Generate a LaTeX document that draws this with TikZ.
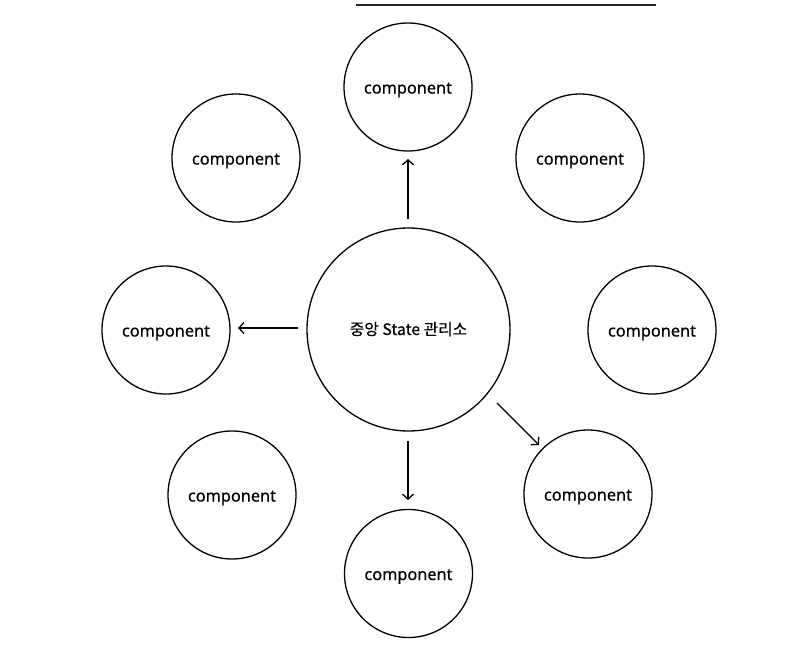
\documentclass[tikz,border=0pt]{standalone}
\usepackage{fontspec}
\setmainfont{Noto Sans}[FakeBold=0.6]
\newfontfamily\cjk{Noto Sans CJK KR}[FakeBold=0.5]
\usetikzlibrary{arrows.meta}
\begin{document}
\begin{tikzpicture}[x=1pt,y=-1pt,
  comp/.style={circle,draw=black,line width=1.3pt,minimum size=128pt,inner sep=0pt,text height=0pt,text depth=0pt,font=\fontsize{16.3}{18}\selectfont\bfseries},
  hub/.style={circle,draw=black,line width=1.3pt,minimum size=203pt,inner sep=0pt,text height=0pt,text depth=0pt,font=\fontsize{15.8}{18}\selectfont},
  link/.style={line width=1.3pt,-{Straight Barb[length=5pt,width=11pt,line width=1.3pt]}}]
\useasboundingbox (0,0) rectangle (812,648);
\draw[line width=1.2pt,draw=black!85] (356,5) -- (656,5);
\node[hub] (c) at (408.5,329.5) {\raisebox{-5.5pt}{\cjk 중앙 State 관리소}};
\node[comp] (t) at (408,87) {\raisebox{-6.5pt}{component}};
\node[comp] (tl) at (236,158) {\raisebox{-6.5pt}{component}};
\node[comp] (tr) at (580,158) {\raisebox{-6.5pt}{component}};
\node[comp] (l) at (166,330) {\raisebox{-6.5pt}{component}};
\node[comp] (r) at (652,330) {\raisebox{-6.5pt}{component}};
\node[comp] (bl) at (232,495) {\raisebox{-6.5pt}{component}};
\node[comp] (br) at (588,494) {\raisebox{-6.5pt}{component}};
\node[comp] (b) at (408.5,573.5) {\raisebox{-6.5pt}{component}};
\coordinate (up1) at (408,219);  \coordinate (up2) at (408,159);
\coordinate (lf1) at (298,328);  \coordinate (lf2) at (238,328);
\coordinate (dn1) at (408,441);  \coordinate (dn2) at (408,500);
\coordinate (dg1) at (497,403);  \coordinate (dg2) at (539,445);
\draw[link] (up1) -- (up2);
\draw[link] (lf1) -- (lf2);
\draw[link] (dn1) -- (dn2);
\draw[link] (dg1) -- (dg2);
\end{tikzpicture}
\end{document}
